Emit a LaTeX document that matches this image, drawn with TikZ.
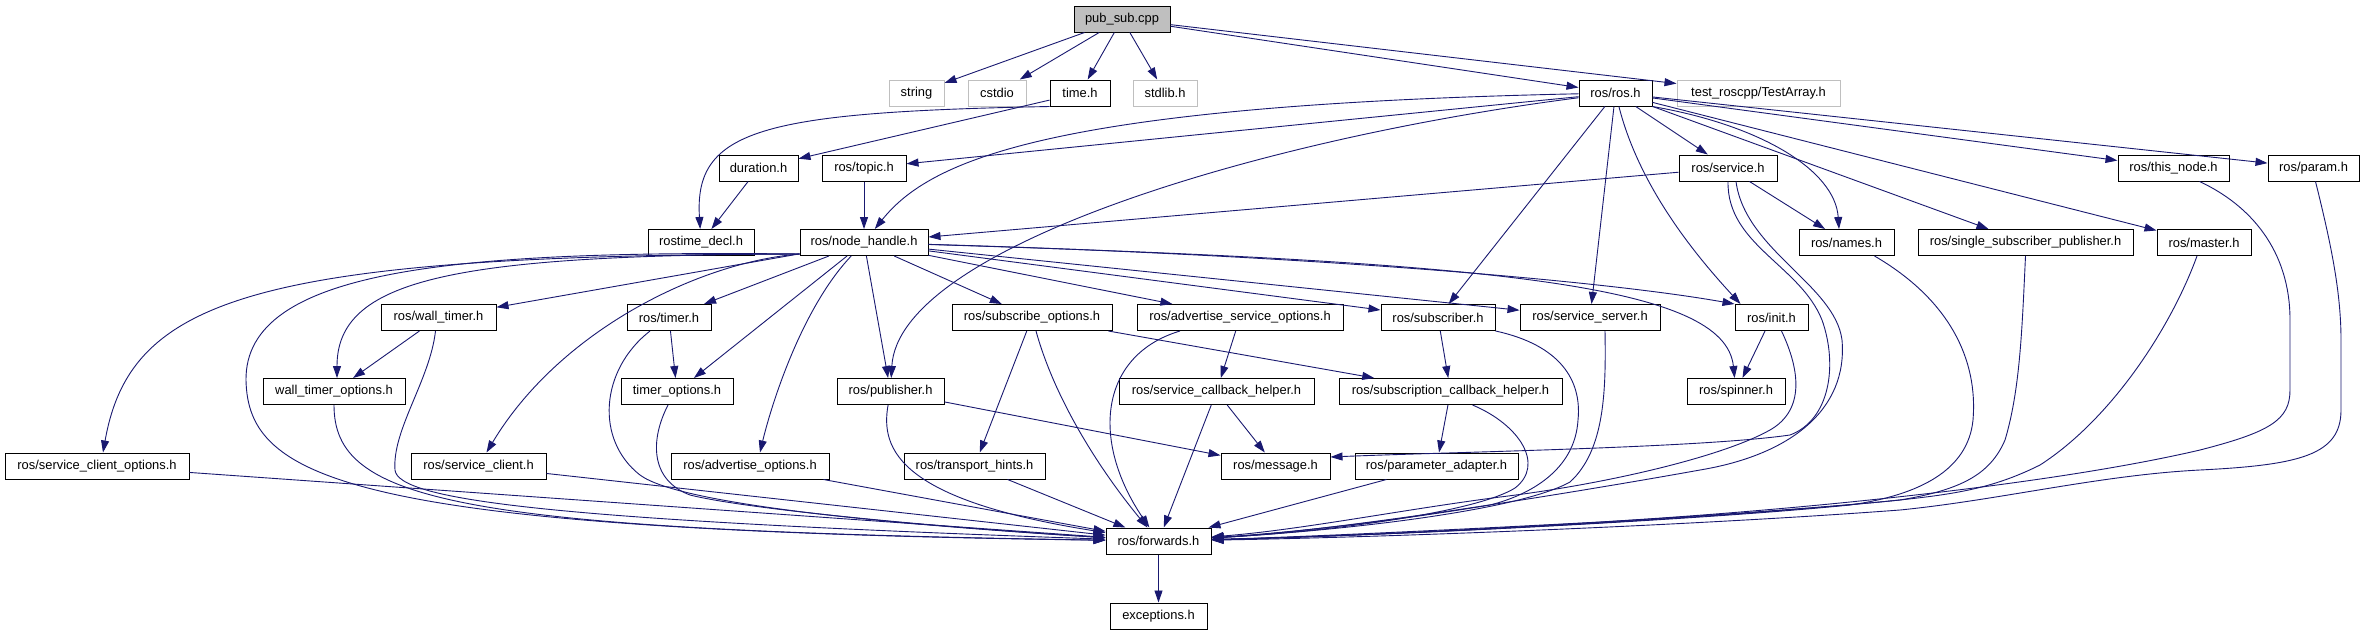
\documentclass[tikz,border=0pt]{standalone}
\usepackage{fontspec}
\setmainfont{Liberation Sans}
\usetikzlibrary{arrows.meta}
\definecolor{edgeblue}{HTML}{191970}
\definecolor{lightgrey}{HTML}{BFBFBF}
\begin{document}
\begin{tikzpicture}[x=1pt,y=-1pt,
  box/.style={draw=black, line width=1pt, fill=white, inner sep=0pt, minimum height=26pt, font=\fontsize{12.9}{14}\selectfont, text=black},
  ext/.style={box, draw=lightgrey},
  root/.style={box, fill=lightgrey},
  dep/.style={draw=edgeblue, line width=0.9pt, -{Triangle[length=12pt,width=8pt]}}
]
\useasboundingbox[fill=white] (0,0) rectangle (2364,635);
% row A
\node[root, minimum width=96pt] (pubsub) at (1122,19) {pub\_sub.cpp};
% row B
\node[ext, minimum width=55pt] (string) at (916.5,93) {string};
\node[ext, minimum width=58pt] (cstdio) at (997,93) {cstdio};
\node[box, minimum width=60pt] (timeh) at (1080,93) {time.h};
\node[ext, minimum width=64pt] (stdlib) at (1165,93) {stdlib.h};
\node[box, minimum width=73pt] (rosh) at (1615.5,93) {ros/ros.h};
\node[ext, minimum width=163pt] (testarray) at (1758.5,93) {test\_roscpp/TestArray.h};
% row C
\node[box, minimum width=79pt] (duration) at (758.5,168) {duration.h};
\node[box, minimum width=84pt] (topic) at (864,168) {ros/topic.h};
\node[box, minimum width=98pt] (service) at (1728,168) {ros/service.h};
\node[box, minimum width=111pt] (thisnode) at (2173.5,168) {ros/this\_node.h};
\node[box, minimum width=91pt] (param) at (2313.5,168) {ros/param.h};
% row D
\node[box, minimum width=106pt] (rostime) at (701,242.5) {rostime\_decl.h};
\node[box, minimum width=128pt] (nodehandle) at (864,242.5) {ros/node\_handle.h};
\node[box, minimum width=95pt] (names) at (1846.5,242.5) {ros/names.h};
\node[box, minimum width=215pt] (singlesub) at (2025.5,242.5) {ros/single\_subscriber\_publisher.h};
\node[box, minimum width=94pt] (master) at (2204,242.5) {ros/master.h};
% row E
\node[box, minimum width=115pt] (walltimer) at (438.5,317.5) {ros/wall\_timer.h};
\node[box, minimum width=84pt] (timer) at (669,317.5) {ros/timer.h};
\node[box, minimum width=160pt] (subopts) at (1032,317.5) {ros/subscribe\_options.h};
\node[box, minimum width=206pt] (advsrvopts) at (1240,317.5) {ros/advertise\_service\_options.h};
\node[box, minimum width=114pt] (subscriber) at (1438,317.5) {ros/subscriber.h};
\node[box, minimum width=140pt] (srvserver) at (1590,317.5) {ros/service\_server.h};
\node[box, minimum width=73pt] (init) at (1771.5,317.5) {ros/init.h};
% row F
\node[box, minimum width=142pt] (walltimeropts) at (334,391.5) {wall\_timer\_options.h};
\node[box, minimum width=112pt] (timeropts) at (677,391.5) {timer\_options.h};
\node[box, minimum width=107pt] (publisher) at (890.5,391.5) {ros/publisher.h};
\node[box, minimum width=195pt] (srvcb) at (1216.5,391.5) {ros/service\_callback\_helper.h};
\node[box, minimum width=223pt] (subcb) at (1450.5,391.5) {ros/subscription\_callback\_helper.h};
\node[box, minimum width=98pt] (spinner) at (1736,391.5) {ros/spinner.h};
% row G
\node[box, minimum width=184pt] (srvclientopts) at (97,466) {ros/service\_client\_options.h};
\node[box, minimum width=135pt] (srvclient) at (478.5,466) {ros/service\_client.h};
\node[box, minimum width=158pt] (advopts) at (750,466) {ros/advertise\_options.h};
\node[box, minimum width=141pt] (transport) at (974.5,466) {ros/transport\_hints.h};
\node[box, minimum width=109pt] (message) at (1275.5,466) {ros/message.h};
\node[box, minimum width=163pt] (paramadapter) at (1436.5,466) {ros/parameter\_adapter.h};
% row H, I
\node[box, minimum width=105pt] (forwards) at (1158.5,541) {ros/forwards.h};
\node[box, minimum width=97pt] (exceptions) at (1158.5,616) {exceptions.h};

% ---- edges from pub_sub.cpp
\draw[dep] (pubsub) -- (string);
\draw[dep] (pubsub) -- (cstdio);
\draw[dep] (pubsub) -- (timeh);
\draw[dep] (pubsub) -- (stdlib);
\draw[dep] (pubsub) -- (rosh);
\draw[dep] (pubsub) -- (testarray);
% ---- time.h, duration.h, topic.h
\draw[dep] (timeh) -- (duration);
\draw[dep] (timeh.south west) .. controls (760,112) and (694,130) .. (rostime);
\draw[dep] (duration) -- (rostime);
\draw[dep] (topic) -- (nodehandle);
% ---- ros/ros.h
\draw[dep] (rosh) -- (topic);
\draw[dep] (rosh) .. controls (1050,105) and (930,160) .. (nodehandle);
\draw[dep] (rosh) .. controls (1250,140) and (898,250) .. (publisher);
\draw[dep] (rosh) -- (subscriber);
\draw[dep] (rosh) -- (srvserver);
\draw[dep] (rosh) .. controls (1640,190) and (1700,260) .. ([xshift=6pt]init.north west);
\draw[dep] (rosh) -- (service);
\draw[dep] (rosh.south east) .. controls (1760,125) and (1835,170) .. ([xshift=-7.5pt]names.north);
\draw[dep] (rosh) -- (singlesub);
\draw[dep] (rosh) -- (master);
\draw[dep] (rosh) -- (thisnode);
\draw[dep] (rosh) -- (param);
% ---- ros/service.h
\draw[dep] (service) -- (nodehandle);
\draw[dep] (service) -- (names);
\draw[dep] (service.south) .. controls (1727,245) and (1800,265) .. (1822,320) .. controls (1838,365) and (1830,420) .. (1790,435) .. controls (1700,448) and (1450,452) .. ([yshift=9pt]message.east);
\draw[dep] ([xshift=8pt]service.south) .. controls (1745,250) and (1835,285) .. (1842,340) .. controls (1848,410) and (1790,455) .. (1700,470) .. controls (1600,488) and (1350,530) .. (forwards);
% ---- ros/node_handle.h
\draw[dep] ([yshift=2pt]nodehandle.south west) .. controls (250,255) and (130,300) .. ([xshift=6pt]srvclientopts.north);
\draw[dep] ([yshift=2pt]nodehandle.south west) .. controls (450,255) and (337,280) .. ([xshift=3pt]walltimeropts.north);
\draw[dep] ([yshift=2pt]nodehandle.south west) .. controls (450,250) and (245,270) .. (246,380) .. controls (248,480) and (350,530) .. (forwards);
\draw[dep] (nodehandle) -- (walltimer);
\draw[dep] ([yshift=2pt]nodehandle.south west) .. controls (700,262) and (560,330) .. ([xshift=8pt]srvclient.north);
\draw[dep] (nodehandle) -- (timer);
\draw[dep] (nodehandle) -- (timeropts);
\draw[dep] (nodehandle) .. controls (800,310) and (770,410) .. ([xshift=10pt]advopts.north);
\draw[dep] (nodehandle) -- (publisher);
\draw[dep] (nodehandle) -- (subopts);
\draw[dep] (nodehandle) -- (advsrvopts);
\draw[dep] (nodehandle) -- (subscriber);
\draw[dep] (nodehandle) -- (srvserver);
\draw[dep] (nodehandle) .. controls (1300,255) and (1600,280) .. (init.north west);
\draw[dep] (nodehandle) .. controls (1500,262) and (1725,285) .. (spinner);
% ---- timers
\draw[dep] (walltimer) -- (walltimeropts);
\draw[dep] ([xshift=-3pt]walltimer.south) .. controls (430,380) and (392,430) .. (395,470) .. controls (398,500) and (550,520) .. (forwards);
\draw[dep] (walltimeropts.south) .. controls (334,500) and (450,530) .. (forwards);
\draw[dep] (timer) -- (timeropts);
\draw[dep] ([xshift=-19pt]timer.south) .. controls (600,370) and (595,440) .. (640,475) .. controls (680,505) and (900,525) .. (forwards);
\draw[dep] ([xshift=-9pt]timeropts.south) .. controls (650,440) and (650,480) .. (690,495) .. controls (750,510) and (950,528) .. (forwards);
% ---- left row G into forwards
\draw[dep] (srvclientopts) -- (forwards);
\draw[dep] (srvclient) -- (forwards);
\draw[dep] (advopts) -- (forwards);
% ---- publisher, options, helpers
\draw[dep] (publisher) -- (message);
\draw[dep] (publisher) .. controls (880,450) and (900,500) .. (forwards);
\draw[dep] (subopts) -- (transport);
\draw[dep] ([xshift=4pt]subopts.south) .. controls (1055,400) and (1100,470) .. (forwards);
\draw[dep] (subopts) -- (subcb);
\draw[dep] (advsrvopts) -- (srvcb);
\draw[dep] ([xshift=-60pt]advsrvopts.south) .. controls (1100,355) and (1090,440) .. (forwards);
\draw[dep] (srvcb) -- (message);
\draw[dep] (srvcb) -- (forwards);
\draw[dep] (subscriber) -- (subcb);
\draw[dep] (subscriber.south east) .. controls (1560,345) and (1582,380) .. (1578,420) .. controls (1575,470) and (1530,495) .. (1490,505) .. controls (1400,520) and (1300,532) .. (forwards);
\draw[dep] ([xshift=15pt]srvserver.south) .. controls (1606,390) and (1605,450) .. (1570,482) .. controls (1520,510) and (1350,530) .. (forwards);
\draw[dep] (subcb) -- (paramadapter);
\draw[dep] ([xshift=22pt]subcb.south) .. controls (1520,425) and (1545,465) .. (1515,488) .. controls (1480,510) and (1350,530) .. (forwards);
\draw[dep] (paramadapter) -- (forwards);
\draw[dep] (transport) -- (forwards);
% ---- init
\draw[dep] (init) -- (spinner);
\draw[dep] ([xshift=10pt]init.south) .. controls (1800,370) and (1805,410) .. (1770,430) .. controls (1720,458) and (1600,485) .. (1500,497) .. controls (1400,510) and (1300,530) .. (forwards);
% ---- right bundle
\draw[dep] ([xshift=28pt]names.south) .. controls (1950,300) and (1978,360) .. (1973,420) .. controls (1968,470) and (1920,495) .. (1850,505) .. controls (1700,520) and (1400,535) .. (forwards);
\draw[dep] (singlesub.south) .. controls (2022,330) and (2020,390) .. (2005,440) .. controls (1990,475) and (1960,490) .. (1900,500) .. controls (1700,520) and (1400,535) .. (forwards);
\draw[dep] ([xshift=-7pt]master.south) .. controls (2170,330) and (2110,420) .. (2040,465) .. controls (1990,490) and (1950,495) .. (1880,502) .. controls (1700,518) and (1400,535) .. (forwards);
\draw[dep] ([xshift=26pt]thisnode.south) .. controls (2250,205) and (2290,250) .. (2290,320) -- (2290,390) .. controls (2290,420) and (2270,432) .. (2200,450) .. controls (2050,485) and (1800,510) .. (1600,522) .. controls (1450,530) and (1300,537) .. (forwards);
\draw[dep] ([xshift=2pt]param.south) .. controls (2330,240) and (2341,290) .. (2341,340) -- (2341,410) .. controls (2341,455) and (2300,465) .. (2200,470) .. controls (2100,475) and (2000,500) .. (1900,510) .. controls (1700,525) and (1400,537) .. (forwards);
% ---- forwards
\draw[dep] (forwards) -- (exceptions);
\end{tikzpicture}
\end{document}
